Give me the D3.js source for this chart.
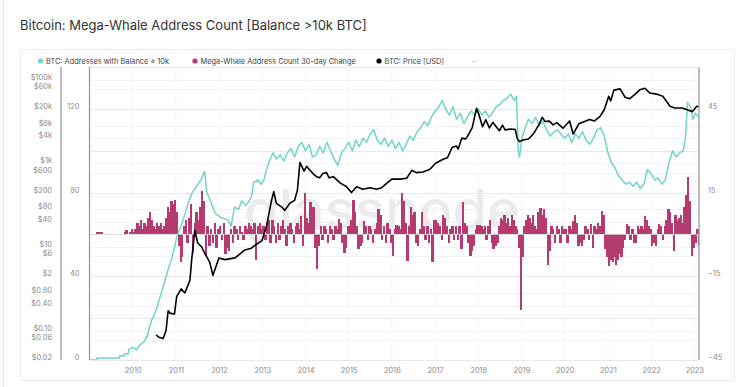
<!DOCTYPE html>
<html>
<head>
<meta charset="utf-8">
<script src="https://cdn.jsdelivr.net/npm/d3@7"></script>
<style>
  body { margin: 0; background: #fff; }
  svg text { font-family: Inter, "Noto Sans", sans-serif; }
</style>
</head>
<body>
<div id="chart"></div>
<script>
// ---- data ----
var chartTitle = "Bitcoin: Mega-Whale Address Count [Balance >10k BTC]";
var legendLabels = ["BTC: Addresses with Balance \u2265 10k", "Mega-Whale Address Count 30-day Change", "BTC: Price [USD]"];

var yearTicks = [2010, 2011, 2012, 2013, 2014, 2015, 2016, 2017, 2018, 2019, 2020, 2021, 2022, 2023];
var priceTicks = [0.02, 0.06, 0.1, 0.4, 0.8, 2, 6, 10, 40, 80, 200, 600, 1000, 4000, 8000, 20000, 60000, 100000];
var priceTickLabels = ["$0.02", "$0.06", "$0.10", "$0.40", "$0.80", "$2", "$6", "$10", "$40", "$80", "$200", "$600", "$1k", "$4k", "$8k", "$20k", "$60k", "$100k"];
var countTicks = [0, 40, 80, 120];
var countGrid = [0, 20, 40, 60, 80, 100, 120, 140];
var changeTicks = [-45, -15, 15, 45];

// addresses with balance >= 10k BTC
var countSeries = [
  ["2009-01-01", 0], ["2009-03-02", 0], ["2009-03-04", 1], ["2009-09-10", 1], ["2009-09-13", 2],
  ["2009-10-22", 2], ["2009-10-25", 3], ["2009-11-25", 3], ["2009-11-28", 5], ["2009-12-28", 6],
  ["2010-02-05", 5], ["2010-03-01", 7], ["2010-04-12", 9], ["2010-05-01", 11], ["2010-06-10", 19],
  ["2010-07-20", 24], ["2010-08-20", 30], ["2010-10-01", 38], ["2010-11-01", 44], ["2010-12-01", 49],
  ["2011-01-10", 59], ["2011-02-20", 65], ["2011-03-15", 69], ["2011-04-15", 75], ["2011-05-20", 80],
  ["2011-06-25", 83], ["2011-08-01", 86], ["2011-09-01", 90], ["2011-09-20", 80], ["2011-10-20", 76],
  ["2011-12-01", 70], ["2012-01-20", 68], ["2012-03-15", 67], ["2012-04-12", 64], ["2012-05-10", 73],
  ["2012-06-15", 72], ["2012-07-10", 76], ["2012-08-10", 74], ["2012-09-01", 75], ["2012-10-01", 78],
  ["2012-10-20", 85], ["2012-11-25", 86], ["2012-12-20", 84],
  ["2013-01-15", 86], ["2013-02-01", 90], ["2013-03-01", 95], ["2013-04-01", 99], ["2013-05-01", 96],
  ["2013-06-01", 98], ["2013-07-01", 95], ["2013-08-01", 99], ["2013-09-01", 101], ["2013-10-01", 97],
  ["2013-11-01", 102], ["2013-12-01", 104], ["2014-01-01", 100], ["2014-02-01", 103], ["2014-03-01", 97],
  ["2014-04-01", 98], ["2014-05-01", 102], ["2014-06-01", 99], ["2014-07-01", 104], ["2014-08-01", 100],
  ["2014-09-01", 96], ["2014-10-01", 93], ["2014-11-01", 99], ["2014-12-01", 101], ["2015-01-01", 104],
  ["2015-02-01", 100], ["2015-03-01", 105], ["2015-04-01", 102], ["2015-05-01", 106], ["2015-06-01", 104],
  ["2015-07-01", 108], ["2015-08-01", 110], ["2015-09-01", 105], ["2015-10-01", 103], ["2015-11-01", 106],
  ["2015-12-01", 102], ["2016-01-01", 105], ["2016-02-01", 101], ["2016-03-01", 104], ["2016-04-01", 100],
  ["2016-05-01", 103], ["2016-06-01", 107], ["2016-07-01", 105], ["2016-08-01", 109], ["2016-09-01", 111],
  ["2016-10-01", 114], ["2016-11-01", 112], ["2016-12-01", 116], ["2017-01-01", 119], ["2017-02-01", 121],
  ["2017-03-01", 124], ["2017-04-01", 120], ["2017-05-01", 117], ["2017-06-01", 121], ["2017-07-01", 115],
  ["2017-08-01", 118], ["2017-09-01", 113], ["2017-10-01", 116], ["2017-11-01", 119], ["2017-12-01", 117],
  ["2018-01-01", 120], ["2018-02-01", 117], ["2018-03-01", 119], ["2018-04-01", 116], ["2018-05-01", 118],
  ["2018-06-01", 121], ["2018-07-01", 122], ["2018-08-01", 124], ["2018-09-01", 125], ["2018-10-01", 127],
  ["2018-11-01", 124], ["2018-11-20", 126], ["2018-12-05", 100], ["2018-12-15", 97], ["2019-01-05", 106],
  ["2019-02-01", 111], ["2019-03-01", 115], ["2019-04-01", 113], ["2019-05-01", 116], ["2019-06-01", 112],
  ["2019-07-01", 114], ["2019-08-01", 110], ["2019-09-01", 107], ["2019-10-01", 109], ["2019-11-01", 110],
  ["2019-12-01", 108], ["2020-01-01", 106], ["2020-02-01", 108], ["2020-03-01", 104], ["2020-04-01", 108],
  ["2020-05-01", 106], ["2020-06-01", 109], ["2020-07-01", 105], ["2020-08-01", 103], ["2020-09-01", 106],
  ["2020-10-01", 110], ["2020-11-01", 111], ["2020-12-01", 107], ["2021-01-01", 99], ["2021-02-01", 94],
  ["2021-03-01", 92], ["2021-04-01", 88], ["2021-05-01", 86], ["2021-06-01", 84], ["2021-07-01", 85],
  ["2021-08-01", 83], ["2021-09-01", 85], ["2021-10-01", 82], ["2021-11-01", 84], ["2021-12-01", 91],
  ["2022-01-01", 89], ["2022-02-01", 86], ["2022-03-01", 87], ["2022-04-01", 84], ["2022-05-01", 86],
  ["2022-06-01", 94], ["2022-07-01", 100], ["2022-08-01", 97], ["2022-09-01", 99], ["2022-10-01", 100],
  ["2022-10-20", 107], ["2022-11-05", 123], ["2022-12-01", 121], ["2022-12-20", 115], ["2023-01-10", 118],
  ["2023-02-08", 116]
];

// BTC price, USD
var priceSeries = [
  ["2010-07-18", 0.08], ["2010-08-10", 0.07], ["2010-09-15", 0.065], ["2010-10-10", 0.1], ["2010-10-28", 0.3],
  ["2010-11-15", 0.26], ["2010-12-20", 0.25], ["2011-01-08", 0.65], ["2011-02-15", 1.0], ["2011-03-18", 0.8],
  ["2011-04-30", 1.6], ["2011-05-15", 5], ["2011-06-10", 25], ["2011-07-05", 12.5], ["2011-08-08", 10],
  ["2011-09-01", 7.2], ["2011-10-15", 4.3], ["2011-11-10", 2.1], ["2011-12-31", 5.5], ["2012-02-20", 5],
  ["2012-05-15", 5.5], ["2012-08-07", 8.5], ["2012-10-01", 9.4], ["2012-10-30", 11], ["2012-12-28", 14],
  ["2013-02-05", 31], ["2013-03-20", 130], ["2013-04-08", 210], ["2013-04-30", 110], ["2013-06-15", 90],
  ["2013-07-10", 75], ["2013-08-20", 110], ["2013-10-01", 130], ["2013-10-25", 230], ["2013-11-15", 1050],
  ["2013-12-20", 650], ["2014-01-10", 850], ["2014-03-05", 570], ["2014-04-05", 480], ["2014-05-01", 450],
  ["2014-05-28", 570], ["2014-06-28", 600], ["2014-07-20", 450], ["2014-08-25", 480], ["2014-10-20", 340],
  ["2014-12-12", 280], ["2015-01-25", 200], ["2015-03-10", 275], ["2015-04-30", 240], ["2015-07-01", 260],
  ["2015-08-25", 240], ["2015-10-05", 260], ["2015-11-18", 330], ["2016-01-01", 420], ["2016-03-10", 420],
  ["2016-05-05", 440], ["2016-06-18", 680], ["2016-07-26", 600], ["2016-09-20", 620], ["2016-11-18", 720],
  ["2017-01-05", 1000], ["2017-03-10", 1250], ["2017-04-15", 1350], ["2017-05-25", 2400], ["2017-06-30", 2600],
  ["2017-07-15", 2200], ["2017-08-15", 4000], ["2017-09-15", 3800], ["2017-10-01", 4400], ["2017-11-10", 7000],
  ["2017-12-17", 20500], ["2018-01-05", 15000], ["2018-02-06", 7500], ["2018-03-05", 11000], ["2018-04-05", 7000],
  ["2018-05-05", 9500], ["2018-06-28", 6000], ["2018-07-25", 8200], ["2018-08-15", 6300], ["2018-10-01", 6600],
  ["2018-11-10", 6400], ["2018-11-25", 4000], ["2018-12-15", 3300], ["2019-01-15", 3600], ["2019-03-01", 3800],
  ["2019-04-15", 5200], ["2019-05-30", 8500], ["2019-06-26", 12500], ["2019-07-20", 10000], ["2019-08-25", 10200],
  ["2019-09-25", 8300], ["2019-10-26", 9400], ["2019-12-18", 6900], ["2020-02-12", 10300], ["2020-03-13", 5000],
  ["2020-04-30", 8800], ["2020-06-01", 9600], ["2020-07-30", 11200], ["2020-09-10", 10300], ["2020-10-25", 13000],
  ["2020-12-01", 19000], ["2021-01-08", 40000], ["2021-01-25", 31000], ["2021-02-20", 56000], ["2021-04-14", 60000],
  ["2021-05-25", 38000], ["2021-07-05", 35000], ["2021-08-20", 45000], ["2021-09-27", 57000], ["2021-11-10", 62000],
  ["2021-12-20", 48000], ["2022-02-15", 45000], ["2022-04-10", 40000], ["2022-06-10", 23000], ["2022-07-20", 21000],
  ["2022-09-20", 21000], ["2022-11-03", 19000], ["2022-12-15", 17000], ["2023-01-22", 23000], ["2023-02-08", 22800]
];

// 30-day change, two values per month (1st and 16th), starting Jan 2009
var changeStartYear = 2009;
var changeValues = [
  /*2009*/ 0, 0, 0, 0, 1, 1, 1, 0, 0, 0, 0, 0, 0, 0, 0, 0, 0, 0, 0, 1, 1.5, 0, 1, 2,
  /*2010*/ 1, 2, 4, 3, 5, 2, 4, 3, 6, 8, 5, 3, 2, 4, 3, 4, 2, 3, 6, 10, 8, 12, 11, 12.5,
  /*2011*/ 8, -4, -10, -8, 3, 5, -3, 6, 10.8, -6.5, 4, 8, 5, 10, 15.5, 12, -7.8, 3, -4, 2, -3, 4, -5, 2,
  /*2012*/ 3, -2, 4, -7, -5, -6, 2, -3, 3, 2, -2, 3, 1, -2, 3, 2, 4, 3, 2, 4, -9, 3, 4, 2,
  /*2013*/ 3, -2, 4, 5, -3, 5, 3, -3, 4, -2, 3, 5, 2, -4, 3, 4, 2, -3, 3, 4, 2, 6.5, -4, 15,
  /*2014*/ 6, 4, 11.5, 9, 10, -5, -12.5, -4, 3, -2, 3, 2, -3, 3, 2, -2, 3, 2, 5.4, 4, -3, -6.6, -5, 3,
  /*2015*/ 3, 5, 12.5, 8, 3, -5.4, -4, -3, 4.8, 3, -2, 3, 2, -3, 2, 4, 9, 7, -2, 3, -3, 4, 2, -3,
  /*2016*/ -7.8, 2, 3.5, 3, 2, 15, 12, 4, -9.5, 3, 10, 7, 8, -3, -4, 2, 8, 3, -2, 3, -3, 2, -10, 5,
  /*2017*/ 5, 4, 3, -2, 7, 6, 3, -3, 2, 3, -2, 3, -2, 3, -5.4, 11.5, 4, 3, -3, -7.8, -6, -4, 2, 3.5,
  /*2018*/ 3.5, 3, 2, 3, -2, 3, 5, -3, -5.4, -4, -3, 3, 6, 5, 7, 4, 6, 3, 7, 5, 3, 2, -5, -27,
  /*2019*/ -8, 3, 5, 7, 6, 4, 7, 3, 2, 8, 9.6, 7, 9, 6, -10.8, -6, 3, 2, -3, 3, 2, -3, 3, 2,
  /*2020*/ 2, -3, 3, 2, 4.8, 7, 4, -4, -3, -4, -2, 3, 2, -2, 3.6, -5, 3, 2, 4, 3, 8.4, 7, -5.4, -8,
  /*2021*/ -11.4, -9, -10, -8, -11, -9, -7, -8, -5, -2, 3.6, 3, -2, 2, -3, -3, 3, 2, 3, 2, 6.5, 5, 3, 2,
  /*2022*/ -4, -3, -4, 2, 3.6, 3, -2, 3, 5, 9, 8, 4, -6, 7, 5, 6, 7, 4, 10, 14, 20.7, 12, -7.8, -5,
  /*2023*/ -3, 2, -4
];

// ---- layout ----
var width = 737, height = 387;
var plot = { left: 89.5, right: 699, top: 67, bottom: 360 };
var colors = { count: "#72d4c6", change: "#b43a70", price: "#000000" };

var parse = d3.utcParse("%Y-%m-%d");
var countData = countSeries.map(function (d) { return { date: parse(d[0]), value: d[1] }; });
var priceData = priceSeries.map(function (d) { return { date: parse(d[0]), value: d[1] }; });
var changeData = changeValues.map(function (v, i) {
  var y = changeStartYear + Math.floor(i / 24), m = Math.floor((i % 24) / 2), half = i % 2;
  return { date: new Date(Date.UTC(y, m, half ? 16 : 1)), value: v };
});

var x = d3.scaleUtc().domain([new Date(Date.UTC(2009, 0, 1)), new Date(Date.UTC(2023, 1, 10))]).range([plot.left, plot.right]);
var yCount = d3.scaleLinear().domain([0, 140]).range([plot.bottom, plot.top]);
var yPrice = d3.scaleLog().domain([0.02, 200000]).range([plot.bottom, plot.top]);
var yChange = d3.scaleLinear().domain([-45, 60]).range([plot.bottom, plot.top]);

var svg = d3.select("#chart").append("svg")
  .attr("width", width)
  .attr("height", height);

// page edge + card
svg.append("line")
  .attr("x1", 3.5).attr("x2", 3.5).attr("y1", 0).attr("y2", height)
  .attr("stroke", "#e6e6ef");
svg.append("rect")
  .attr("x", 20.5).attr("y", 49.5)
  .attr("width", 714).attr("height", 331)
  .attr("fill", "#fff")
  .attr("stroke", "#ebebeb")
  .attr("rx", 2);

svg.append("text")
  .attr("x", 20).attr("y", 30)
  .attr("font-size", 13)
  .attr("fill", "#333")
  .text(chartTitle);

// legend
var legendX = [40.5, 195, 379];
var legendColors = [colors.count, colors.change, colors.price];
var legend = svg.append("g").attr("class", "legend");
legend.selectAll("circle")
  .data(legendLabels)
  .enter().append("circle")
  .attr("cx", function (d, i) { return legendX[i]; })
  .attr("cy", 61)
  .attr("r", 2.6)
  .attr("fill", function (d, i) { return legendColors[i]; });
legend.selectAll("text")
  .data(legendLabels)
  .enter().append("text")
  .attr("x", function (d, i) { return legendX[i] + 5.5; })
  .attr("y", 63.7)
  .attr("font-size", 7.4)
  .attr("fill", "#444")
  .text(function (d) { return d; });
legend.append("text")
  .attr("x", 472).attr("y", 63.7)
  .attr("font-size", 7.4)
  .attr("fill", "#999")
  .text("-");

// grid
var grid = svg.append("g").attr("class", "grid");
grid.selectAll(".gp")
  .data(priceTicks)
  .enter().append("line")
  .attr("class", "gp")
  .attr("x1", plot.left).attr("x2", plot.right)
  .attr("y1", function (d) { return Math.round(yPrice(d)) + 0.5; })
  .attr("y2", function (d) { return Math.round(yPrice(d)) + 0.5; })
  .attr("stroke", "#f2f2f2");
grid.selectAll(".gc")
  .data(countGrid)
  .enter().append("line")
  .attr("class", "gc")
  .attr("x1", plot.left).attr("x2", plot.right)
  .attr("y1", function (d) { return Math.round(yCount(d)) + 0.5; })
  .attr("y2", function (d) { return Math.round(yCount(d)) + 0.5; })
  .attr("stroke", "#e9e9e9");
grid.selectAll(".gx")
  .data(yearTicks)
  .enter().append("line")
  .attr("class", "gx")
  .attr("x1", function (d) { return x(new Date(Date.UTC(d, 0, 1))); })
  .attr("x2", function (d) { return x(new Date(Date.UTC(d, 0, 1))); })
  .attr("y1", plot.top).attr("y2", plot.bottom)
  .attr("stroke", "#f5f5f5");

// watermark
svg.append("text")
  .attr("x", 382).attr("y", 230)
  .attr("text-anchor", "middle")
  .attr("font-size", 56)
  .attr("font-weight", 500)
  .attr("fill", "#ebebeb")
  .text("glassnode");

svg.append("clipPath").attr("id", "clip")
  .append("rect")
  .attr("x", plot.left).attr("y", plot.top)
  .attr("width", plot.right - plot.left).attr("height", plot.bottom - plot.top);

var body = svg.append("g").attr("clip-path", "url(#clip)");

// 30-day change bars
body.selectAll(".bar")
  .data(changeData)
  .enter().append("rect")
  .attr("class", "bar")
  .attr("x", function (d) { return x(d.date); })
  .attr("width", function (d, i) {
    var next = changeData[i + 1] ? changeData[i + 1].date : d3.utcDay.offset(d.date, 15);
    return x(next) - x(d.date) + 0.6;
  })
  .attr("y", function (d) { return Math.min(yChange(d.value), yChange(0)); })
  .attr("height", function (d) { return Math.abs(yChange(d.value) - yChange(0)); })
  .attr("shape-rendering", "crispEdges")
  .attr("fill", colors.change);

// zero line of change axis
body.append("line")
  .attr("x1", plot.left).attr("x2", plot.right)
  .attr("y1", yChange(0)).attr("y2", yChange(0))
  .attr("stroke", "#d9d9d9")
  .attr("stroke-width", 0.8);

body.append("path")
  .datum(countData)
  .attr("fill", "none")
  .attr("stroke", colors.count)
  .attr("stroke-width", 1.5)
  .attr("stroke-linejoin", "round")
  .attr("d", d3.line().x(function (d) { return x(d.date); }).y(function (d) { return yCount(d.value); }));

body.append("path")
  .datum(priceData)
  .attr("fill", "none")
  .attr("stroke", colors.price)
  .attr("stroke-width", 1.6)
  .attr("stroke-linejoin", "round")
  .attr("d", d3.line().x(function (d) { return x(d.date); }).y(function (d) { return yPrice(d.value); }));

// axis lines
[61, plot.left, plot.right].forEach(function (ax) {
  svg.append("line")
    .attr("x1", ax).attr("x2", ax)
    .attr("y1", plot.top).attr("y2", plot.bottom)
    .attr("stroke", "#9a9a9a")
    .attr("stroke-width", 1.3);
});

function styleAxis(g) {
  g.select(".domain").remove();
  g.selectAll("text")
    .attr("font-size", 7.4)
    .attr("fill", "#8a8a8a")
    .style("font-family", "Inter, 'Noto Sans', sans-serif");
}

svg.append("g")
  .attr("transform", "translate(61,0)")
  .call(d3.axisLeft(yPrice).tickValues(priceTicks).tickSize(0).tickPadding(9)
    .tickFormat(function (d, i) { return priceTickLabels[i]; }))
  .call(styleAxis)
  .selectAll("text").attr("dy", "-0.05em");

svg.append("g")
  .attr("transform", "translate(" + plot.left + ",0)")
  .call(d3.axisLeft(yCount).tickValues(countTicks).tickSize(0).tickPadding(10))
  .call(styleAxis)
  .selectAll("text").attr("dy", "-0.05em");

svg.append("g")
  .attr("transform", "translate(" + plot.right + ",0)")
  .call(d3.axisRight(yChange).tickValues(changeTicks).tickSize(0).tickPadding(9))
  .call(styleAxis)
  .selectAll("text").attr("dy", "-0.05em");

svg.append("g")
  .attr("transform", "translate(0," + plot.bottom + ")")
  .call(d3.axisBottom(x)
    .tickValues(yearTicks.map(function (yr) { return new Date(Date.UTC(yr, 0, 1)); }))
    .tickSize(0).tickPadding(8)
    .tickFormat(d3.utcFormat("%Y")))
  .call(styleAxis);
</script>
</body>
</html>
